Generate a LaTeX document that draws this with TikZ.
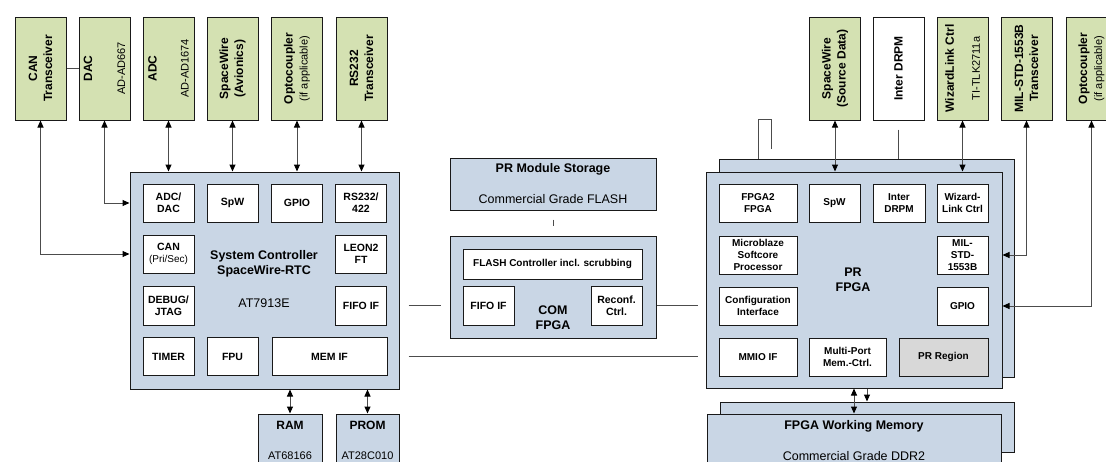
\documentclass[tikz,border=0pt]{standalone}
\usepackage{fontspec}
\setmainfont{Liberation Sans}
\usetikzlibrary{arrows.meta}

\definecolor{perigreen}{RGB}{212,225,178}
\definecolor{blockblue}{RGB}{201,214,229}
\definecolor{regiongray}{RGB}{216,216,216}

\tikzset{
  box/.style={draw=black!90, line width=1pt, inner sep=1pt, align=center},
  peri/.style={box, fill=perigreen, rotate=90, minimum width=103pt, minimum height=51pt,
    font=\fontsize{12}{15}\selectfont\bfseries},
  blk/.style={box, fill=blockblue},
  ibox/.style={box, fill=white, minimum width=51pt, minimum height=38pt,
    font=\fontsize{10.5}{12}\selectfont\bfseries},
  pbox/.style={ibox, font=\fontsize{10}{12}\selectfont\bfseries},
  ttl/.style={align=center, font=\fontsize{12.5}{15}\selectfont\bfseries},
  sub/.style={align=center, font=\fontsize{12.5}{15}\selectfont},
  conn/.style={draw=black!70, line width=1pt},
  dbl/.style={conn, {Triangle[length=7pt,width=6pt,color=black]}-{Triangle[length=7pt,width=6pt,color=black]}},
  sgl/.style={conn, -{Triangle[length=7pt,width=6pt,color=black]}}
}

\begin{document}
\begin{tikzpicture}[x=1pt, y=-1pt]
    \path[use as bounding box] (0,0) rectangle (1106,461);
    \clip (0,0) rectangle (1106,461);

    % peripherals of the system controller
    \node[peri] (can) at (40.5,68.5) {CAN\\Transceiver};
    \node[peri] (dac) at (104.5,68.5) {DAC\\[18pt]\mdseries\fontsize{11}{13}\selectfont AD-AD667};
    \node[peri] (adc) at (168.5,68.5) {ADC\\[17pt]\mdseries\fontsize{11}{13}\selectfont AD-AD1674};
    \node[peri] (spwa) at (232.5,68.5) {SpaceWire\\(Avionics)};
    \node[peri] (optoa) at (297,68.5) {Optocoupler\\\mdseries\fontsize{11}{13}\selectfont(if applicable)};
    \node[peri] (rs) at (361.5,68.5) {RS232\\Transceiver};

    % system controller
    \node[blk, minimum width=269pt, minimum height=217pt] (sc) at (264.5,280.5) {};
    \node[ibox] (sadc) at (168.5,203) {ADC/\\DAC};
    \node[ibox] (sspw) at (232.5,203) {SpW};
    \node[ibox] (sgpio) at (297,203) {GPIO};
    \node[ibox] (srs) at (361,203) {RS232/\\422};
    \node[ibox] (scan) at (168.5,254) {CAN\\\mdseries\fontsize{10}{12}\selectfont(Pri/Sec)};
    \node[ibox] (sleon) at (361,254) {LEON2\\FT};
    \node[ibox, minimum height=39pt] (sdbg) at (168.5,305.5) {DEBUG/\\JTAG};
    \node[ibox, minimum height=39pt] (sfifo) at (361,305.5) {FIFO IF};
    \node[ibox] (stimer) at (168.5,356.5) {TIMER};
    \node[ibox] (sfpu) at (232.5,356.5) {FPU};
    \node[ibox, minimum width=115pt] (smem) at (329.5,356.5) {MEM IF};
    \node[ttl] (sctitle) at (264,264) {System Controller\\SpaceWire-RTC};
    \node[sub] (scpart) at (264,303) {AT7913E};

    % memories of the system controller
    \node[blk, minimum width=64pt, minimum height=53pt, font=\fontsize{11}{14}\selectfont] (ram) at (290,440.5)
        {{\fontsize{12}{14}\selectfont\bfseries RAM}\\[16pt]AT68166};
    \node[blk, minimum width=63pt, minimum height=53pt, font=\fontsize{11}{14}\selectfont] (prom) at (367.5,440.5)
        {{\fontsize{12}{14}\selectfont\bfseries PROM}\\[16pt]AT28C010};

    % PR module storage and COM FPGA
    \node[blk, sub, minimum width=206pt, minimum height=52pt] (stor) at (553,184)
        {{\bfseries PR Module Storage}\\[16pt]Commercial Grade FLASH};
    \node[blk, minimum width=206pt, minimum height=102pt] (com) at (553,287) {};
    \node[pbox, minimum width=179pt, minimum height=30pt] (cflash) at (552.5,264) {FLASH Controller incl. scrubbing};
    \node[ibox, minimum height=39pt] (cfifo) at (488.5,305.5) {FIFO IF};
    \node[ibox, minimum height=39pt] (crec) at (616.5,305.5) {Reconf.\\Ctrl.};
    \node[ttl] (comtitle) at (553,317.5) {COM\\FPGA};

    % PR FPGA
    \node[blk, minimum width=295pt, minimum height=218pt] (prb) at (866.5,268) {};
    \node[blk, minimum width=296pt, minimum height=216pt] (pr) at (854,280) {};
    \node[pbox, minimum width=78pt] (pfpga) at (758,203) {FPGA2\\FPGA};
    \node[pbox] (pspw) at (834.5,203) {SpW};
    \node[pbox, minimum width=52pt] (pdrpm) at (899,203) {Inter\\DRPM};
    \node[pbox] (pwiz) at (962.5,203) {Wizard-\\Link Ctrl};
    \node[pbox, minimum width=78pt] (pmb) at (758,255) {Microblaze\\Softcore\\Processor};
    \node[pbox] (pmil) at (962.5,255) {MIL-\\STD-\\1553B};
    \node[pbox, minimum width=78pt] (pcfg) at (758,306) {Configuration\\Interface};
    \node[pbox] (pgpio) at (962.5,306) {GPIO};
    \node[pbox, minimum width=78pt] (pmmio) at (758,357) {MMIO IF};
    \node[pbox, minimum width=77pt] (pmpc) at (847.5,357) {Multi-Port\\Mem.-Ctrl.};
    \node[pbox, minimum width=89pt, fill=regiongray] (preg) at (943.5,357) {PR Region};
    \node[ttl] (prtitle) at (853,280) {PR\\FPGA};

    % FPGA working memory
    \node[blk, minimum width=294pt, minimum height=50pt] (fwmb) at (867,427) {};
    \node[blk, sub, minimum width=294pt, minimum height=53pt] (fwm) at (854,440.5)
        {{\bfseries FPGA Working Memory}\\[16pt]Commercial Grade DDR2};

    % peripherals of the PR FPGA
    \node[peri] (spws) at (835,68.5) {SpaceWire\\(Source Data)};
    \node[peri, fill=white] (drpm) at (898.5,68.5) {Inter DRPM};
    \node[peri] (wiz) at (962.5,68.5) {WizardLink Ctrl\\[11pt]\mdseries\fontsize{11}{13}\selectfont TI-TLK2711a};
    \node[peri] (mil) at (1026.5,68.5) {MIL-STD-1553B\\Transceiver};
    \node[peri] (optob) at (1091.5,68.5) {Optocoupler\\\mdseries\fontsize{11}{13}\selectfont(if applicable)};

    % connections
    \draw[conn] (can.south) -- (dac.north);
    \draw[dbl] (can.west) |- (sc.west |- scan);
    \draw[dbl] (dac.west) |- (sc.west |- sadc);
    \draw[dbl] (adc.west) -- (adc.west |- sc.north);
    \draw[dbl] (spwa.west) -- (spwa.west |- sc.north);
    \draw[dbl] (optoa.west) -- (optoa.west |- sc.north);
    \draw[dbl] (rs.west) -- (rs.west |- sc.north);
    \draw[dbl] (ram.north) -- (ram.north |- sc.south);
    \draw[dbl] (prom.north) -- (prom.north |- sc.south);
    \draw[conn, shorten <=9pt, shorten >=9pt] (sc.east |- sfifo) -- (com.west |- sfifo);
    \draw[conn, shorten >=8pt] (com.east |- sfifo) -- (pr.west |- sfifo);
    \draw[conn, shorten <=9pt, shorten >=8pt] (sc.east |- smem) -- (pr.west |- smem);
    \draw[conn, shorten <=9pt, shorten >=10pt] (stor.south) -- (com.north);

    \draw[dbl] (spws.west) -- (spws.west |- pr.north);
    \draw[conn, shorten <=9pt] (drpm.west) -- (drpm.west |- prb.north);
    \draw[dbl] (wiz.west) -- (wiz.west |- pr.north);
    \draw[dbl] (mil.west) |- (pr.east |- pmil);
    \draw[dbl] (optob.west) |- (pr.east |- pgpio);
    \draw[conn] (pfpga.north |- prb.north) -- ++(0,-39) -- ++(13,0) -- ++(0,29);
    \draw[dbl] (fwm.north) -- (fwm.north |- pr.south);
    \draw[sgl] (fwmb.north |- pr.south) -- (fwmb.north);
\end{tikzpicture}
\end{document}
